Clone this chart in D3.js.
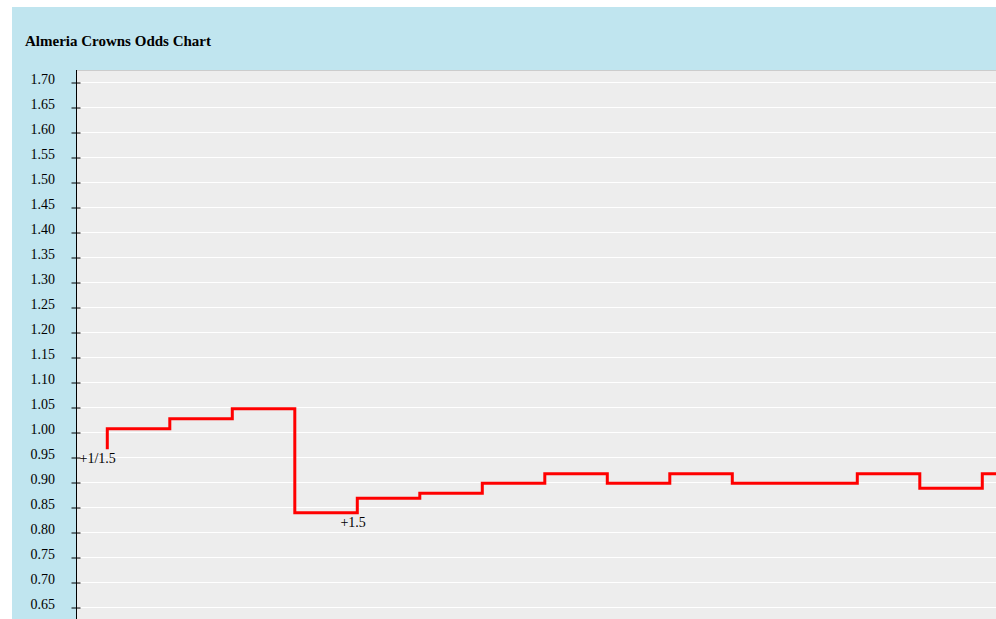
<!DOCTYPE html>
<html><head><meta charset="utf-8">
<script src="https://cdn.jsdelivr.net/npm/d3@7"></script>
<style>body{margin:0;background:#fff;overflow:hidden} svg{display:block}</style>
</head><body>
<svg id="chart" width="996" height="619"></svg>
<script>
const chartTitle = "Almeria Crowns Odds Chart";
// step positions (x index) and odds values (step-after line)
const stepIndex  = [0, 0, 1, 2, 3, 4, 5, 6, 7, 8, 9, 10, 11, 12, 13, 14, 15];
const oddsValues = [0.966, 1.007, 1.027, 1.047, 0.839, 0.868, 0.878, 0.898, 0.917, 0.898, 0.917, 0.898, 0.898, 0.917, 0.888, 0.917, 0.917];
const yTickValues = [0.65, 0.70, 0.75, 0.80, 0.85, 0.90, 0.95, 1.00, 1.05, 1.10, 1.15, 1.20, 1.25, 1.30, 1.35, 1.40, 1.45, 1.50, 1.55, 1.60, 1.65, 1.70];
const yTickLabels = ["0.65","0.70","0.75","0.80","0.85","0.90","0.95","1.00","1.05","1.10","1.15","1.20","1.25","1.30","1.35","1.40","1.45","1.50","1.55","1.60","1.65","1.70"];
// handicap labels: position in the data arrays where the handicap changes
const handicapPos  = [1, 5];
const handicapText = ["+1/1.5", "+1.5"];

const W = 996, H = 619;
const panel = {left: 12, top: 7};
const plot = {left: 76, top: 70, right: 996, bottom: 619};
const font = "'Liberation Serif','Times New Roman',serif";

const svg = d3.select("#chart");
svg.append("rect").attr("x", panel.left).attr("y", panel.top)
  .attr("width", W - panel.left).attr("height", H - panel.top).attr("fill", "#c0e5ef");
svg.append("rect").attr("x", plot.left).attr("y", plot.top)
  .attr("width", plot.right - plot.left).attr("height", plot.bottom - plot.top).attr("fill", "#ededed");
svg.append("line").attr("x1", plot.left).attr("x2", plot.right)
  .attr("y1", plot.top + 0.5).attr("y2", plot.top + 0.5).attr("stroke", "#cccccc");

svg.append("text").attr("x", 25).attr("y", 46)
  .attr("font-family", font).attr("font-size", "15px").attr("font-weight", "bold")
  .attr("fill", "#000").text(chartTitle);

const y = d3.scaleLinear().domain([0.65, 1.70]).range([607.3, 82.3]);
const x = d3.scaleLinear().domain([0, 1]).range([107.3, 169.8]);

// gridlines
svg.append("g").selectAll("line").data(yTickValues).join("line")
  .attr("x1", plot.left + 1).attr("x2", plot.right)
  .attr("y1", d => Math.round(y(d)) + 0.5).attr("y2", d => Math.round(y(d)) + 0.5)
  .attr("stroke", "#ffffff").attr("stroke-width", 1);

// axis
const axis = d3.axisLeft(y).tickValues(yTickValues).tickFormat((d, i) => yTickLabels[i]).tickSize(5).tickPadding(16);
const ag = svg.append("g").attr("transform", `translate(${plot.left + 0.5},0)`).call(axis);
ag.select(".domain").remove();
ag.append("line").attr("x1", 0).attr("x2", 0).attr("y1", plot.top).attr("y2", H).attr("stroke", "#000");
ag.selectAll(".tick line").attr("x1", -5).attr("x2", 4).attr("stroke", "#000")
  .attr("transform", d => `translate(0,${Math.round(y(d)) + 0.5 - y(d)})`);
ag.selectAll(".tick text").attr("font-family", font).attr("font-size", "14px")
  .attr("fill", "#000").attr("dy", "0.07em").attr("x", -21.5);

// line
const line = d3.line()
  .x((d, i) => x(stepIndex[i]))
  .y(d => y(d))
  .curve(d3.curveStepAfter);
svg.append("path").datum(oddsValues).attr("d", line)
  .attr("fill", "none").attr("stroke", "#ff0000").attr("stroke-width", 3);

// handicap labels
svg.append("g").selectAll("text").data(handicapPos).join("text")
  .attr("x", d => x(stepIndex[d]) + 8.5)
  .attr("y", d => y(oddsValues[d - 1]) + 14)
  .attr("text-anchor", "end")
  .attr("font-family", font).attr("font-size", "14px").attr("fill", "#000")
  .text((d, i) => handicapText[i]);
</script>
</body></html>
